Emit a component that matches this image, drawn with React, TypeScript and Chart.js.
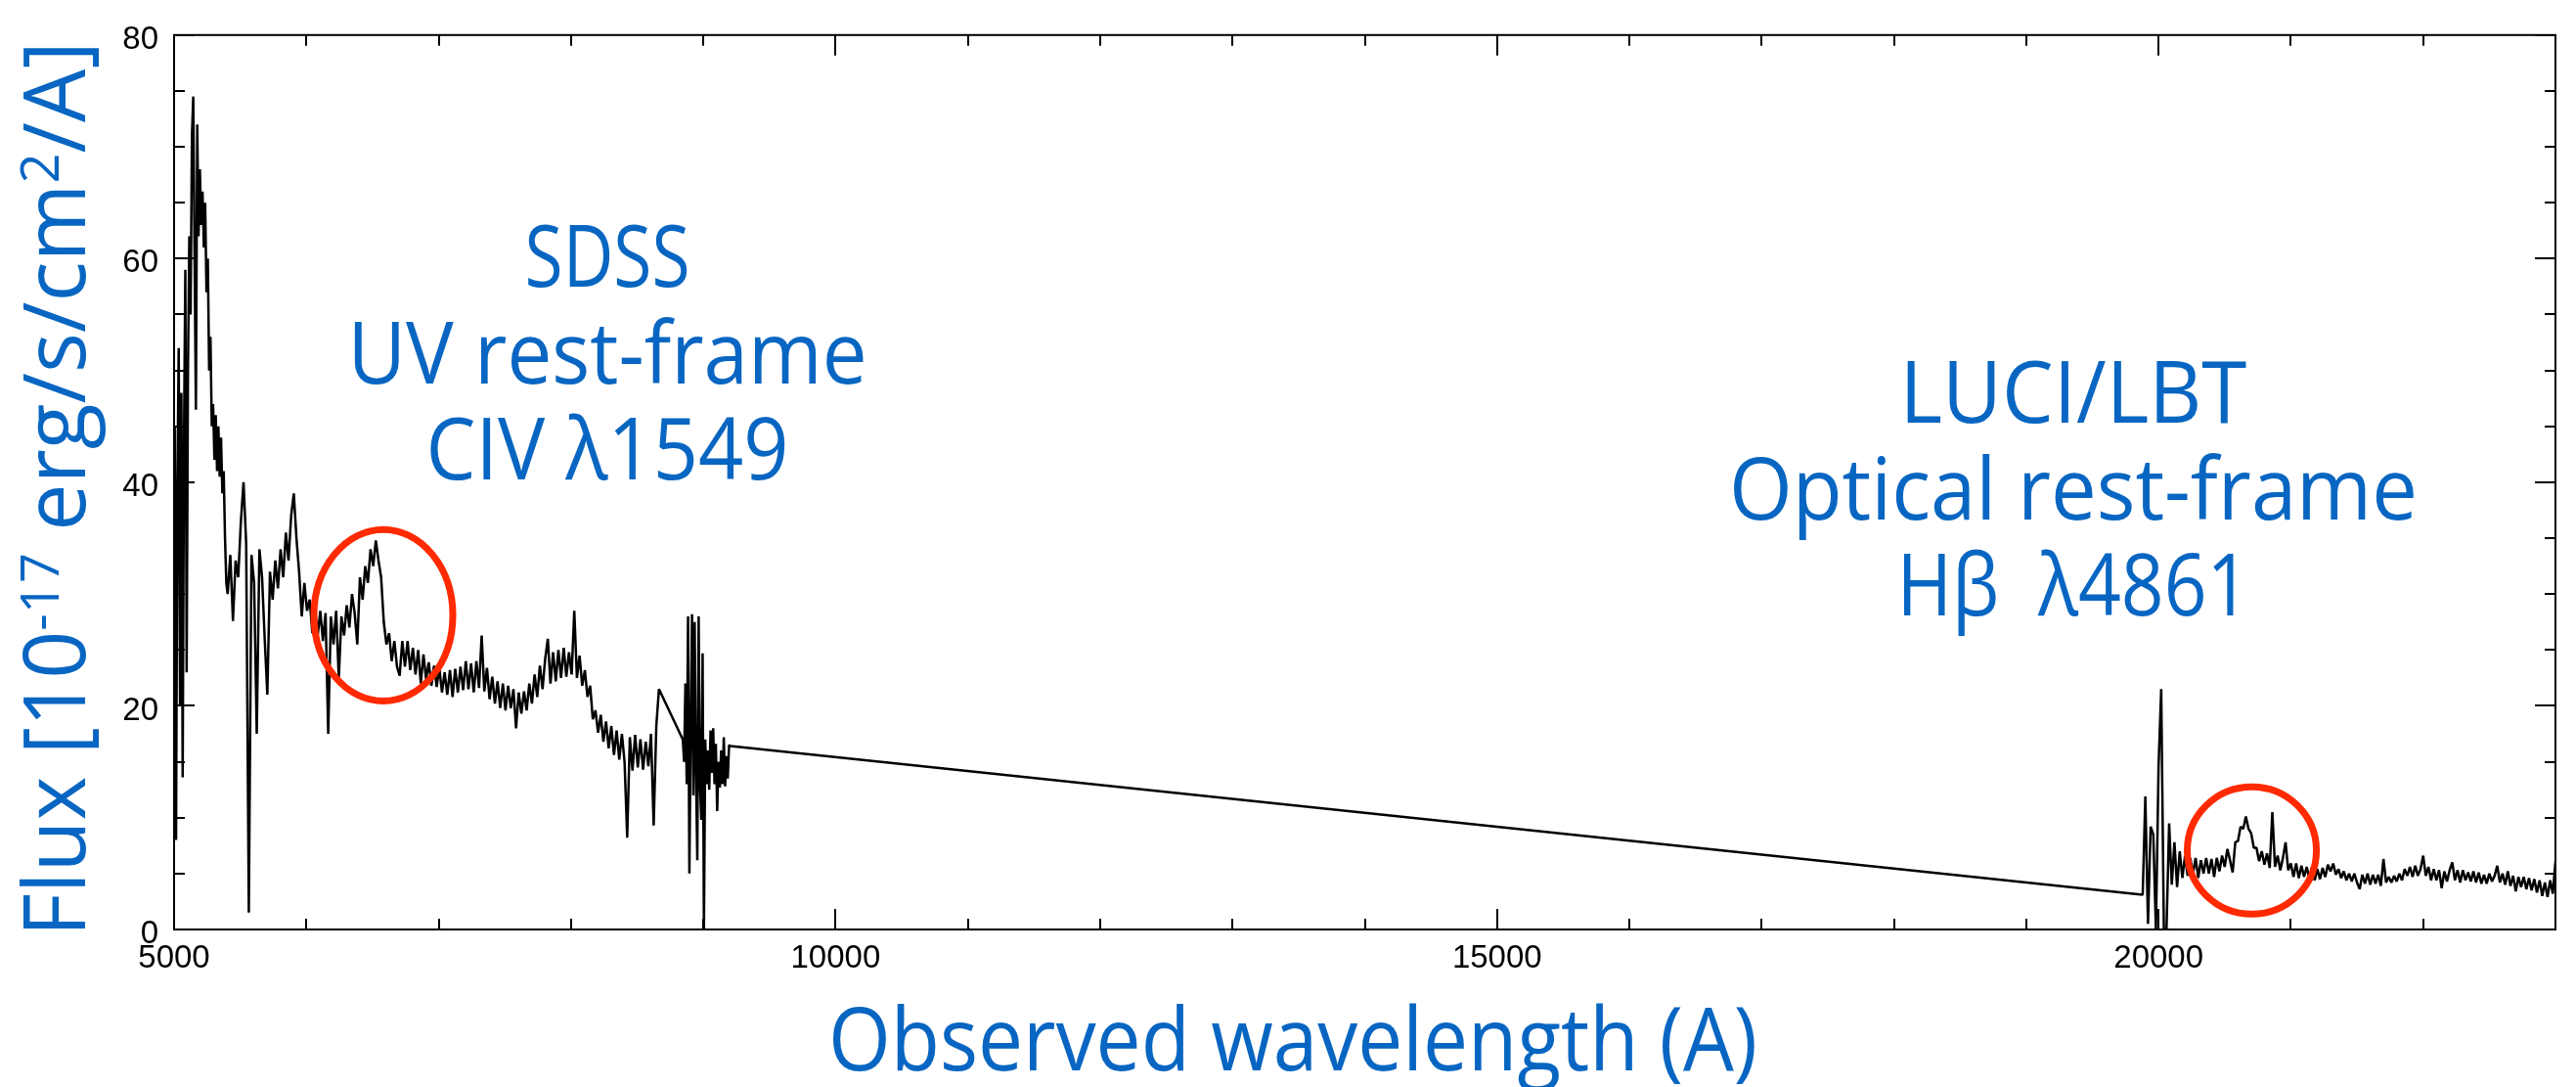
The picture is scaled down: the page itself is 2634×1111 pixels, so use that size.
import { useEffect, useRef } from 'react';
import { Chart, registerables } from 'chart.js';

Chart.register(...registerables);

const CANVAS_W = 2634;
const CANVAS_H = 1111;

// SDSS spectrum, blue edge: first wavelength (A), sampling step (A), flux (1e-17 erg/s/cm2/A)
const sdssEdgeStart = 5005;
const sdssEdgeStep = 10;
const sdssEdgeFlux = [
  45, 8, 40, 52, 20, 48, 13.6, 44, 59, 23,
  50, 62, 55, 71, 74.5, 60, 46.5, 72, 62, 68,
  63, 66, 61, 65, 57, 60, 50, 53, 45, 47,
  42, 46, 41, 45, 40.5, 44, 39, 41, 35, 31,
];

// SDSS spectrum, main continuum up to the masked band
const sdssMainStart = 5405;
const sdssMainStep = 20;
const sdssMainFlux = [
  30, 33.5, 27.6, 33, 31.5, 36.5, 40, 34.5, 1.5, 33.5,
  31, 17.5, 34, 31.5, 26, 21, 32, 29.5, 33, 30.5,
  34, 31.5, 35.5, 33, 37, 39, 35, 32, 28, 31,
  28.5, 29.5, 26.5, 28.8, 26.2, 28.5, 25.8, 28.3, 17.5, 28,
  25.5, 28.5, 22.5, 28, 26.3, 29, 27, 30, 28.3, 25.5,
  31.5, 29.5, 32.5, 31, 34, 32.5, 34.8, 33, 31.5, 27.5,
  25.5, 26.5, 24, 25.8, 23.5, 22.7, 25.8, 23.5, 25.8, 23.2,
  25.2, 22.8, 25, 22, 24.6, 22.4, 23.9, 21.8, 23.6, 21.7,
  23.4, 21.2, 23, 21, 23.2, 20.8, 23.3, 21.2, 23.5, 21.4,
  24, 21.5, 23.8, 21.2, 24, 21.6, 26.3, 21.3, 23.4, 20.6,
  22.6, 20.2, 22.2, 19.8, 22, 19.6, 21.8, 19.8, 21.5, 18,
  21.2, 19.3, 21.3, 19.6, 22, 20.2, 22.8, 20.8, 23.6, 21.5,
  24.2, 26, 22, 24.8, 22.2, 25, 22.5, 25.2, 22.6, 24.8,
  22.8, 28.5, 22.5, 24.5, 21.8, 23.2, 20.8, 21.8, 18.8, 19.6,
  17.6, 19.2, 16.8, 18.6, 16.2, 18.2, 15.6, 17.8, 15.2, 17.5,
  15, 8.2, 17.2, 14.2, 17.4, 14.5, 17, 14.3, 16.8, 14.6,
  17.5, 9.3, 18.2, 21.5,
];

// SDSS spectrum, red end beyond the masked band
const sdssRedStart = 8845;
const sdssRedStep = 10;
const sdssRedFlux = [
  17, 15, 22, 13, 28, 5, 18, 28.2, 12, 27.5,
  14, 6.2, 28, 13, 9.8, 24.7, 0, 17, 13, 16,
  12.5, 17.8, 14, 18, 13, 16.6, 10.6, 15, 12.7, 16,
  13, 17.2, 12.8, 15.5, 13.5, 16.5, 16.4,
];

// LUCI/LBT near-infrared spectrum
const luciStart = 19880;
const luciStep = 20;
const luciFlux = [
  3.1, 11.9, 0.5, 9.2, 8.5, 0, 14.6, 21.5, 0, 0,
  9.5, 4, 7.8, 3.8, 7.0, 4.6, 6.6, 4.8, 6.4, 5.0,
  6.4, 4.6, 6.2, 5.0, 6.4, 5.0, 6.3, 4.7, 6.4, 5.2,
  6.6, 5.6, 7.2, 6.2, 5.1, 7.8, 7.9, 9.2, 9.0, 10.1,
  9.0, 8.6, 7.3, 7.3, 6.1, 7.0, 5.8, 6.8, 5.5, 10.5,
  5.6, 6.6, 5.3, 6.4, 7.8, 5.3, 5.9, 4.7, 5.9, 4.6,
  5.7, 4.7, 5.6, 4.5, 5.6, 4.4, 5.4, 4.5, 5.5, 4.7,
  5.8, 5.2, 5.9, 4.9, 5.4, 4.6, 5.2, 4.4, 5.0, 4.3,
  5.0, 4.2, 3.6, 4.9, 4.1, 5.0, 4.0, 4.9, 4.1, 4.9,
  3.9, 6.3, 4.2, 4.7, 4.2, 4.8, 4.3, 5.0, 4.4, 5.4,
  4.8, 5.6, 4.7, 5.7, 4.8, 5.4, 6.6, 4.8, 5.6, 4.4,
  5.4, 4.4, 5.3, 3.7, 5.2, 4.3, 5.3, 6.0, 4.4, 5.3,
  4.2, 5.3, 4.4, 5.1, 4.3, 5.2, 4.2, 5.1, 4.1, 4.9,
  4.1, 5.0, 4.3, 4.8, 5.7, 4.2, 5.0, 4.0, 5.2, 3.9,
  4.8, 3.4, 4.7, 3.8, 4.7, 3.6, 4.6, 3.5, 4.5, 3.3,
  4.4, 3.0, 4.2, 2.9, 4.4, 3.2, 6.1,
];

// Axis ranges and ticks
const xRange = [5000, 23000];
const yRange = [0, 80];
const xTickValues = [5000, 10000, 15000, 20000];
const yTickValues = [0, 20, 40, 60, 80];
const xMinorStep = 1000;
const yMinorStep = 5;

// Texts
const xTitle = 'Observed wavelength (A)';
const yTitleParts = [
  { t: 'Flux [10' },
  { t: '-17', sup: true },
  { t: ' erg/s/cm' },
  { t: '2', sup: true },
  { t: '/A]' },
];
const sdssLines = ['SDSS', 'UV rest-frame', 'CIV λ1549'];
const luciLines = ['LUCI/LBT', 'Optical rest-frame', 'Hβ  λ4861'];

const BLUE = '#0866c2';
const RED = '#ff2a00';
const TEXT_FAMILY = '"Open Sans", "Noto Sans", sans-serif';

// Annotation blocks, anchored in data units (centre wavelength, baseline flux of the first line)
const noteBlocks = [
  { lines: sdssLines, x: 8275, y: 57.45, widths: [169, 531, 371] },
  { lines: luciLines, x: 19355, y: 45.3, widths: [355, 704, 361] },
];
const LINE_PITCH = 98.5;

// Highlight ellipses around the broad emission lines (centre and radii in data units)
const highlightRings = [
  { x: 6582, y: 28.1, rx: 525, ry: 7.67 },
  { x: 20705, y: 7.06, rx: 488, ry: 5.69 },
];

const toPoints = (start: number, step: number, flux: number[]) =>
  flux.map((y, i) => ({ x: start + step * i, y }));

type Seg = { t: string; sup?: boolean };

function drawFitted(
  ctx: CanvasRenderingContext2D,
  segs: Seg[],
  width: number,
  font: string,
  supFont: string,
  rise: number,
) {
  let natural = 0;
  const ws = segs.map((s) => {
    ctx.font = s.sup ? supFont : font;
    const w = ctx.measureText(s.t).width;
    natural += w;
    return w;
  });
  ctx.scale(width / natural, 1);
  let cx = -natural / 2;
  segs.forEach((s, i) => {
    ctx.font = s.sup ? supFont : font;
    ctx.fillText(s.t, cx, s.sup ? -rise : 0);
    cx += ws[i];
  });
}

const framePlugin = {
  id: 'spectrumFrame',
  afterDatasetsDraw(chart: any) {
    const { ctx, chartArea: a } = chart;
    const xs = chart.scales.x;
    const ys = chart.scales.y;
    ctx.save();
    ctx.strokeStyle = '#000';
    ctx.lineWidth = 2;
    ctx.lineCap = 'butt';
    ctx.beginPath();
    for (let v = xRange[0]; v <= xRange[1]; v += xMinorStep) {
      const len = xTickValues.includes(v) ? 21 : 11;
      const px = Math.round(xs.getPixelForValue(v));
      ctx.moveTo(px, a.bottom);
      ctx.lineTo(px, a.bottom - len);
      ctx.moveTo(px, a.top);
      ctx.lineTo(px, a.top + len);
    }
    for (let v = yRange[0]; v <= yRange[1]; v += yMinorStep) {
      const len = yTickValues.includes(v) ? 21 : 11;
      const py = Math.round(ys.getPixelForValue(v));
      ctx.moveTo(a.left, py);
      ctx.lineTo(a.left + len, py);
      ctx.moveTo(a.right, py);
      ctx.lineTo(a.right - len, py);
    }
    ctx.stroke();
    ctx.strokeRect(a.left, a.top, a.right - a.left, a.bottom - a.top);

    // highlight rings
    ctx.strokeStyle = RED;
    ctx.lineWidth = 7;
    highlightRings.forEach((r) => {
      const cx = xs.getPixelForValue(r.x);
      const cy = ys.getPixelForValue(r.y);
      const rx = Math.abs(xs.getPixelForValue(r.x + r.rx) - cx);
      const ry = Math.abs(ys.getPixelForValue(r.y + r.ry) - cy);
      ctx.beginPath();
      ctx.ellipse(cx, cy, rx, ry, 0, 0, Math.PI * 2);
      ctx.stroke();
    });
    ctx.restore();
  },
  afterDraw(chart: any) {
    const { ctx, chartArea: a } = chart;
    const xs = chart.scales.x;
    const ys = chart.scales.y;
    const font = `87px ${TEXT_FAMILY}`;
    ctx.save();
    ctx.fillStyle = BLUE;
    ctx.textAlign = 'left';
    ctx.textBaseline = 'alphabetic';

    noteBlocks.forEach((b) => {
      const cx = xs.getPixelForValue(b.x);
      const top = ys.getPixelForValue(b.y);
      b.lines.forEach((line, i) => {
        ctx.save();
        ctx.translate(cx, top + i * LINE_PITCH);
        drawFitted(ctx, [{ t: line }], b.widths[i], font, font, 0);
        ctx.restore();
      });
    });

    // x axis title
    ctx.save();
    ctx.translate(1322, 1094);
    drawFitted(ctx, [{ t: xTitle }], 950, `90px ${TEXT_FAMILY}`, font, 0);
    ctx.restore();

    // y axis title, rotated
    ctx.save();
    ctx.translate(87, (a.top + a.bottom) / 2 + 7);
    ctx.rotate(-Math.PI / 2);
    drawFitted(ctx, yTitleParts, 915, font, `55px ${TEXT_FAMILY}`, 27);
    ctx.restore();

    ctx.restore();
  },
};

export default function App() {
  const canvasRef = useRef<HTMLCanvasElement | null>(null);

  useEffect(() => {
    const canvas = canvasRef.current;
    if (!canvas) return;
    const points = [
      ...toPoints(sdssEdgeStart, sdssEdgeStep, sdssEdgeFlux),
      ...toPoints(sdssMainStart, sdssMainStep, sdssMainFlux),
      ...toPoints(sdssRedStart, sdssRedStep, sdssRedFlux),
      ...toPoints(luciStart, luciStep, luciFlux),
    ];
    const tickFont = { family: '"Liberation Sans", Arial, sans-serif', size: 33 };
    const chart = new Chart(canvas, {
      type: 'line',
      data: {
        datasets: [
          {
            data: points,
            borderColor: '#000',
            borderWidth: 2.5,
            borderJoinStyle: 'bevel',
            pointRadius: 0,
            tension: 0,
            fill: false,
          },
        ],
      },
      options: {
        responsive: false,
        animation: false,
        devicePixelRatio: 1,
        layout: { padding: { top: 21, right: 21, left: 0, bottom: 0 } },
        plugins: { legend: { display: false }, tooltip: { enabled: false } },
        scales: {
          x: {
            type: 'linear',
            min: xRange[0],
            max: xRange[1],
            grid: { display: false, drawTicks: false },
            border: { display: false },
            afterFit: (s: any) => {
              s.height = 161;
            },
            afterBuildTicks: (s: any) => {
              s.ticks = xTickValues.map((value) => ({ value }));
            },
            ticks: {
              font: tickFont,
              color: '#000',
              padding: 10,
              maxRotation: 0,
              autoSkip: false,
              callback: (v: any) => String(v),
            },
          },
          y: {
            type: 'linear',
            min: yRange[0],
            max: yRange[1],
            grid: { display: false, drawTicks: false },
            border: { display: false },
            afterFit: (s: any) => {
              s.width = 178;
            },
            afterBuildTicks: (s: any) => {
              s.ticks = yTickValues.map((value) => ({ value }));
            },
            ticks: {
              font: tickFont,
              color: '#000',
              padding: 16,
              labelOffset: 5,
              callback: (v: any) => String(v),
            },
          },
        },
      },
      plugins: [framePlugin],
    } as any);
    return () => chart.destroy();
  }, []);

  return (
    <div
      style={{
        position: 'fixed',
        left: 0,
        top: 0,
        width: CANVAS_W,
        height: CANVAS_H,
        background: '#fff',
      }}
    >
      <canvas
        ref={canvasRef}
        width={CANVAS_W}
        height={CANVAS_H}
        style={{ display: 'block', width: CANVAS_W, height: CANVAS_H }}
      />
    </div>
  );
}
